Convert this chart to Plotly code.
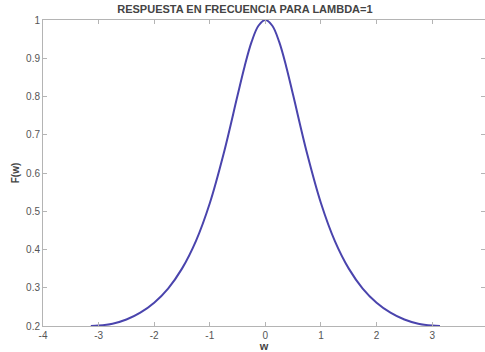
import plotly.graph_objects as go

w_vals = [-3.14, -3.0, -2.75, -2.5, -2.25, -2.0, -1.75, -1.5, -1.25, -1.0, -0.75, -0.5, -0.375, -0.25, -0.125,
          0.0, 0.125, 0.25, 0.375, 0.5, 0.75, 1.0, 1.25, 1.5, 1.75, 2.0, 2.25, 2.5, 2.75, 3.0, 3.14]
f_vals = [0.200, 0.201, 0.206, 0.217, 0.235, 0.261, 0.298, 0.350, 0.422, 0.521, 0.651, 0.803, 0.878, 0.942, 0.985,
          1.000, 0.985, 0.942, 0.878, 0.803, 0.651, 0.521, 0.422, 0.350, 0.298, 0.261, 0.235, 0.217, 0.206, 0.201, 0.200]

x_ticks = [-4, -3, -2, -1, 0, 1, 2, 3, 4]
y_ticks = [0.2, 0.3, 0.4, 0.5, 0.6, 0.7, 0.8, 0.9, 1]
y_labels = ["0.2", "0.3", "0.4", "0.5", "0.6", "0.7", "0.8", "0.9", "1"]

FONT = "Liberation Sans, Arial, sans-serif"

fig = go.Figure()
fig.add_trace(go.Scatter(x=w_vals, y=f_vals, mode="lines",
                         line=dict(color="#4a44ad", width=2, shape="spline"),
                         showlegend=False))

axis_common = dict(showgrid=False, zeroline=False, showline=True, linecolor="#b4b4b4",
                   linewidth=1, mirror="ticks", ticks="inside", ticklen=4, tickcolor="#b4b4b4",
                   tickfont=dict(family=FONT, size=10, color="#555555"))

fig.update_layout(
    width=485, height=352,
    margin=dict(l=43, r=0, t=20, b=26),
    paper_bgcolor="white", plot_bgcolor="white",
    title=dict(text="<b>RESPUESTA EN FRECUENCIA PARA LAMBDA=1</b>",
               x=0.505, xanchor="center", y=0.985, yanchor="top",
               font=dict(family=FONT, size=11, color="#444444")),
    xaxis=dict(range=[-4, 3.95], tickvals=x_ticks, ticktext=[str(v) for v in x_ticks],
               title=dict(text="<b>w</b>", standoff=0,
                          font=dict(family=FONT, size=11, color="#444444")),
               **axis_common),
    yaxis=dict(range=[0.2, 1.0], tickvals=y_ticks, ticktext=y_labels,
               title=dict(text="<b>F(w)</b>", standoff=4,
                          font=dict(family=FONT, size=10, color="#444444")),
               **axis_common),
)

fig.write_html("out.html")
